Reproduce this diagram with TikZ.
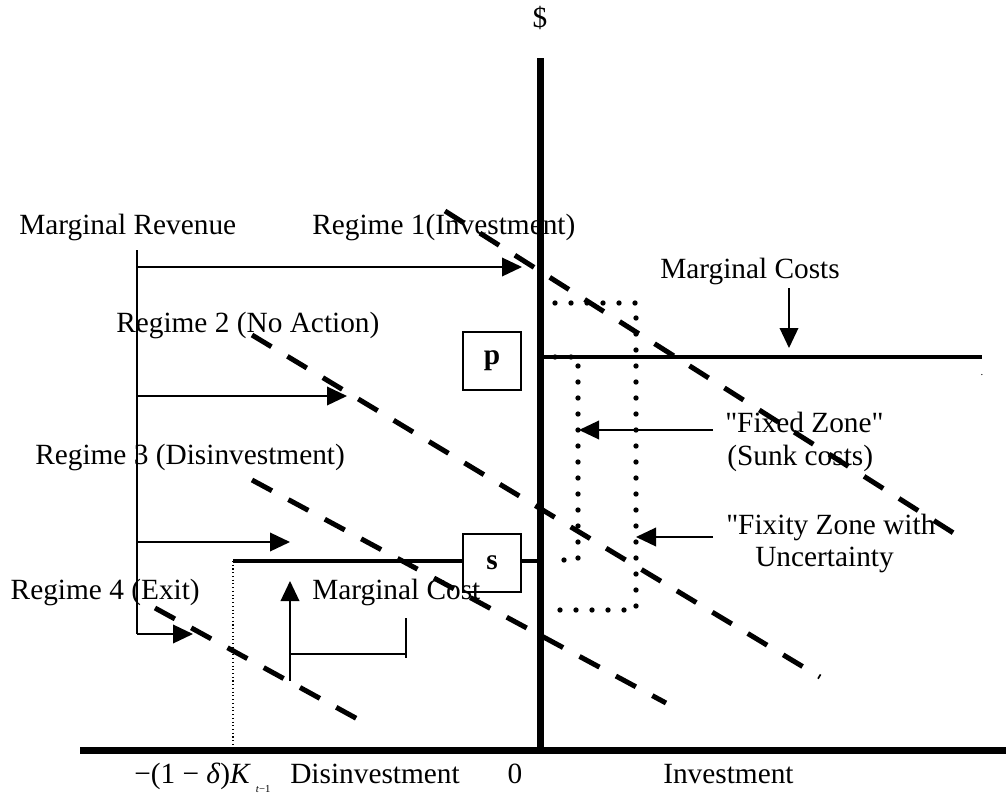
\documentclass[tikz,border=0pt]{standalone}
\usepackage{fontspec}
\setmainfont{Liberation Serif}
\font\qfont="Liberation Serif" at 22pt
\newcommand{\sq}{{\qfont\char34}}
\usetikzlibrary{arrows.meta}
\begin{document}
\begin{tikzpicture}[x=0.75pt,y=-0.75pt,
  lbl/.style={inner sep=0pt, font=\fontsize{22}{24}\selectfont, text height=15.5pt, text depth=4.6pt},
  axisline/.style={line width=5.25pt},
  costline/.style={line width=2.6pt},
  regime/.style={line width=3.75pt, dash pattern=on 17pt off 14pt},
  arr/.style={line width=1.1pt, -{Triangle[length=15pt,width=14pt]}},
  thin/.style={line width=1.1pt},
  zone/.style={line width=4pt, line cap=round, dash pattern=on 0pt off 12pt},
  pbox/.style={draw, line width=1.5pt, minimum width=44pt, minimum height=43.5pt, inner sep=0pt, font=\fontsize{22}{24}\selectfont\bfseries}
]
\useasboundingbox (0,0) rectangle (1006,796);

% axes
\coordinate (vtop) at (540,58);
\coordinate (vbot) at (540,753);
\coordinate (hleft) at (80,750);
\coordinate (hright) at (1006,750);
\draw[axisline] (vtop) -- (vbot);
\draw[axisline] (hleft) -- (hright);
\node[lbl] (dollar) at (540,20) {\$};

% bottom labels
\node[lbl, anchor=west] (kt) at (134,776) {−(1 − \textit{δ})\textit{K}\,\raisebox{-0.3em}{\fontsize{8}{8}\selectfont\textit{t}−1}};
\node[lbl, anchor=west] (disinv) at (290,776) {Disinvestment};
\node[lbl] (zero) at (515,776) {0};
\node[lbl, anchor=west] (inv) at (663,776) {Investment};

% regime dashed lines
\coordinate (r1a) at (445,211); \coordinate (r1b) at (963,539);
\coordinate (r2a) at (252,335); \coordinate (r2b) at (820,677);
\coordinate (r3a) at (252,480); \coordinate (r3b) at (666,703);
\coordinate (r4a) at (155,608); \coordinate (r4b) at (363,722);
\draw[regime] (r1a) -- (r1b);
\draw[regime] (r2a) -- (r2b);
\draw[regime] (r3a) -- (r3b);
\draw[regime] (r4a) -- (r4b);

% marginal revenue bracket and arrows
\coordinate (mrtop) at (137,250);
\coordinate (a1) at (137,267); \coordinate (t1) at (522,267);
\coordinate (a2) at (137,396); \coordinate (t2) at (347,396);
\coordinate (a3) at (137,542); \coordinate (t3) at (290,542);
\coordinate (a4) at (137,634); \coordinate (t4) at (193,634);
\draw[thin] (mrtop) -- (a4);
\draw[arr] (a1) -- (t1);
\draw[arr] (a2) -- (t2);
\draw[arr] (a3) -- (t3);
\draw[arr] (a4) -- (t4);

% regime labels
\node[lbl, anchor=west] (mr) at (19,227) {Marginal Revenue};
\node[lbl, anchor=west] (reg1) at (312,227) {Regime 1(Investment)};
\node[lbl, anchor=west] (reg2) at (116,325) {Regime 2 (No Action)};
\node[lbl, anchor=west] (reg3) at (35,457) {Regime 3 (Disinvestment)};
\node[lbl, anchor=east] (reg4) at (200,592) {Regime 4 (Exit)};

% p and s boxes, cost lines
\node[pbox] (p) at (492,361) {p};
\node[pbox] (s) at (492,563) {s};
\coordinate (mcl) at (543,357); \coordinate (mcr) at (982,357);
\draw[costline] (mcl) -- (mcr);
\node[inner sep=0pt, font=\fontsize{8}{8}\selectfont] (dot) at (982,375) {.};
\coordinate (sl) at (233,561); \coordinate (sr) at (538,561);
\draw[costline] (sl) -- (sl -| s.west);
\draw[costline] (sr -| s.east) -- (sr);
\coordinate (dk) at (233,748);
\draw[line width=0.8pt, dotted] (sl) -- (dk);

% marginal costs arrow
\node[lbl, anchor=west] (mcs) at (660,271) {Marginal Costs};
\coordinate (mca) at (789,288); \coordinate (mct) at (789,348);
\draw[arr] (mca) -- (mct);

% marginal cost (lower) arrow
\node[lbl, anchor=west] (mc) at (312,592) {Marginal Cost};
\coordinate (mcb) at (290,681); \coordinate (mcu) at (290,581);
\coordinate (hk) at (290,654); \coordinate (hkr) at (406,654);
\coordinate (tk1) at (406,618); \coordinate (tk2) at (406,658);
\draw[arr] (mcb) -- (mcu);
\draw[thin] (hk) -- (hkr);
\draw[thin] (tk1) -- (tk2);

% zones
\coordinate (o1) at (555,303); \coordinate (o2) at (636,303);
\coordinate (o3) at (636,610); \coordinate (o4) at (555,610);
\draw[zone] (o1) -- (o2) -- (o3) -- (o4);
\coordinate (i1) at (555,357); \coordinate (i2) at (578,357);
\coordinate (i3) at (578,560); \coordinate (i4) at (555,560);
\draw[zone] (i1) -- (i2) -- (i3) -- (i4);

% zone labels and arrows
\node[lbl, anchor=west] (fz1) at (725,425) {\sq Fixed Zone\sq};
\node[lbl, anchor=west] (fz2) at (727,458) {(Sunk costs)};
\node[lbl, anchor=west] (fu1) at (726,527) {\sq Fixity Zone with};
\node[lbl, anchor=west] (fu2) at (755,559) {Uncertainty};
\coordinate (fa) at (713,430); \coordinate (ft) at (579,430);
\coordinate (ua) at (713,537); \coordinate (ut) at (636,537);
\draw[arr] (fa) -- (ft);
\draw[arr] (ua) -- (ut);
\end{tikzpicture}
\end{document}
